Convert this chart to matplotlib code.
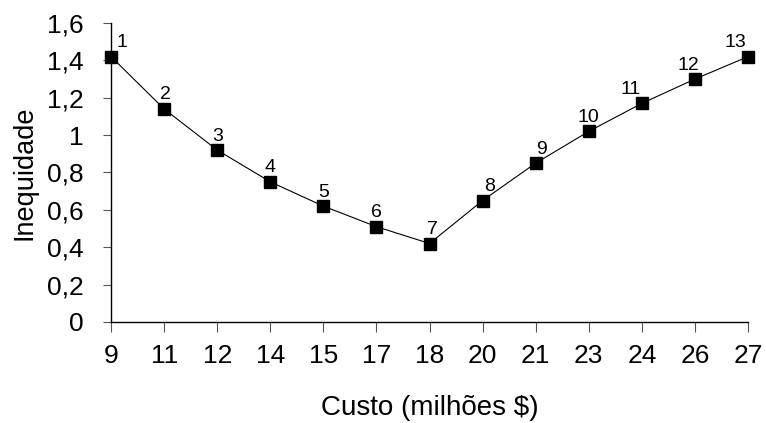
import matplotlib
matplotlib.use("Agg")
import matplotlib.pyplot as plt

custo = ["9", "11", "12", "14", "15", "17", "18", "20", "21", "23", "24", "26", "27"]
inequidade = [1.42, 1.14, 0.92, 0.75, 0.62, 0.51, 0.42, 0.65, 0.85, 1.02, 1.17, 1.30, 1.42]
point_labels = [str(i) for i in range(1, 14)]
y_ticks = [0, 0.2, 0.4, 0.6, 0.8, 1.0, 1.2, 1.4, 1.6]
y_ticklabels = ["0", "0,2", "0,4", "0,6", "0,8", "1", "1,2", "1,4", "1,6"]

plt.rcParams['font.family'] = ['Liberation Sans', 'DejaVu Sans']

fig = plt.figure(figsize=(7.66, 4.23), dpi=100)
ax = fig.add_axes([0.145, 0.2388, 0.8315, 0.7068])

x = list(range(len(custo)))
ax.plot(x, inequidade, color='black', lw=0.8, marker='s', markersize=8.5,
        markerfacecolor='black', markeredgecolor='black', clip_on=False, zorder=3)

dx = [8, 1, 0, 0, 0, 0, 2, 5, 4, 0, -8, -5, -9]
for xi, yi, lab, d in zip(x, inequidade, point_labels, dx):
    ax.annotate(lab, (xi, yi), xytext=(d, 4), textcoords='offset points',
                ha='center', va='bottom', fontsize=14)

ax.set_xlim(0, len(custo) - 1)
ax.set_ylim(0, 1.6)
ax.set_xticks(x)
ax.set_xticklabels(custo)
ax.set_yticks(y_ticks)
ax.set_yticklabels(y_ticklabels)
ax.tick_params(axis='both', labelsize=19, direction='out', width=0.8, color='#555555')
ax.tick_params(axis='y', pad=14, length=6)
ax.tick_params(axis='x', pad=9, length=7)

for s in ['top', 'right']:
    ax.spines[s].set_visible(False)
for s in ['left', 'bottom']:
    ax.spines[s].set_linewidth(1.0)

ax.set_xlabel("Custo (milhões $)", fontsize=20)
ax.set_ylabel("Inequidade", fontsize=19.5)
ax.xaxis.set_label_coords(0.5, -0.245)
ax.yaxis.set_label_coords(-0.116, 0.5)

fig.savefig("out.png", dpi=100)
